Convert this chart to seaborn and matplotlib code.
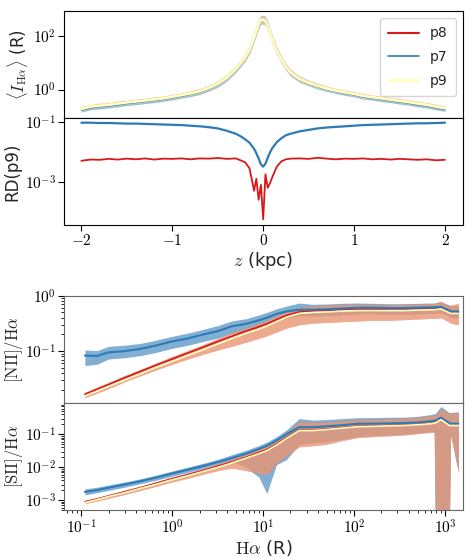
import numpy as np
import matplotlib
matplotlib.use('Agg')
import matplotlib.pyplot as plt
from matplotlib.ticker import FuncFormatter, NullLocator, LogLocator
import seaborn as sns

# vertical profiles (z in kpc)
z = [-2.0, -1.9, -1.8, -1.7, -1.6, -1.5, -1.4, -1.3, -1.2, -1.1, -1.0, -0.9, -0.8, -0.7, -0.6, -0.5, -0.4, -0.3,
     -0.25, -0.2, -0.15, -0.1, -0.075, -0.05, -0.025, 0.0, 0.025, 0.05, 0.075, 0.1, 0.15, 0.2, 0.25,
     0.3, 0.4, 0.5, 0.6, 0.7, 0.8, 0.9, 1.0, 1.1, 1.2, 1.3, 1.4, 1.5, 1.6, 1.7, 1.8, 1.9, 2.0]

# mean H-alpha intensity of p9 (R)
ha_p9 = [0.19, 0.23, 0.25, 0.27, 0.30, 0.33, 0.36, 0.39, 0.43, 0.47, 0.54, 0.62, 0.72, 0.87, 1.15, 1.66, 2.8, 6.0,
         9.5, 15.8, 31.6, 89, 158, 282, 417, 417, 380, 251, 141, 79, 28, 13.2, 7.1,
         4.4, 2.5, 1.82, 1.38, 1.10, 0.91, 0.79, 0.69, 0.58, 0.52, 0.47, 0.42, 0.38, 0.34, 0.30, 0.27, 0.23, 0.20]
# multiplicative scatter of the intensity band
ha_spread = [1.22, 1.2, 1.22, 1.2, 1.22, 1.2, 1.22, 1.2, 1.22, 1.2, 1.22, 1.2, 1.22, 1.25, 1.25, 1.28, 1.3, 1.3,
             1.32, 1.35, 1.38, 1.4, 1.42, 1.45, 1.45, 1.45, 1.45, 1.42, 1.4, 1.38, 1.35, 1.32, 1.3,
             1.3, 1.28, 1.25, 1.25, 1.22, 1.2, 1.22, 1.2, 1.22, 1.2, 1.22, 1.2, 1.22, 1.2, 1.22, 1.2, 1.22, 1.2]

# relative difference with respect to p9
rd_p7 = [0.0933, 0.0933, 0.0912, 0.0912, 0.0891, 0.0871, 0.0871, 0.0851, 0.0832, 0.0813, 0.0794, 0.0776, 0.0741, 0.0708, 0.0661, 0.0603, 0.0501, 0.0398,
         0.0331, 0.0263, 0.0200, 0.0126, 0.0089, 0.0060, 0.0038, 0.0032, 0.0040, 0.0063, 0.0095, 0.0132, 0.0209, 0.0282, 0.0355,
         0.0398, 0.0479, 0.0537, 0.0603, 0.0646, 0.0676, 0.0708, 0.0741, 0.0776, 0.0794, 0.0813, 0.0832, 0.0851, 0.0871, 0.0891, 0.0891, 0.0912, 0.0933]
rd_p8 = [0.0050, 0.0055, 0.0054, 0.0058, 0.0055, 0.0059, 0.0056, 0.0060, 0.0055, 0.0059, 0.0058, 0.0060, 0.0056, 0.0060, 0.0059, 0.0062, 0.0058, 0.0060,
         0.0052, 0.0045, 0.0028, 0.0005, 0.00126, 0.00025, 0.00079, 0.000056, 0.00178, 0.00063, 0.00089, 0.00141, 0.0032, 0.0048, 0.0056,
         0.0059, 0.0060, 0.0058, 0.0063, 0.0059, 0.0056, 0.0059, 0.0058, 0.0060, 0.0056, 0.0058, 0.0055, 0.0058, 0.0056, 0.0054, 0.0056, 0.0052, 0.0054]

# line ratios vs H-alpha (R)
ha_bins = [0.11, 0.15, 0.2, 0.3, 0.45, 0.65, 1.0, 1.5, 2.2, 3.2, 4.5, 6.5, 9, 11, 14, 18,
           25, 35, 50, 75, 110, 160, 240, 350, 500, 700, 760, 780, 900, 1120, 1150, 1400]

nii_p7 = [0.083, 0.082, 0.095, 0.100, 0.110, 0.125, 0.150, 0.170, 0.200, 0.230, 0.280, 0.310, 0.360, 0.400, 0.470, 0.520,
          0.560, 0.560, 0.570, 0.590, 0.610, 0.610, 0.600, 0.600, 0.610, 0.620, 0.620, 0.620, 0.630, 0.540, 0.520, 0.520]
nii_p7_lo = [0.055, 0.058, 0.072, 0.076, 0.083, 0.094, 0.112, 0.128, 0.150, 0.172, 0.210, 0.232, 0.270, 0.300, 0.350, 0.400,
             0.430, 0.430, 0.440, 0.450, 0.470, 0.470, 0.460, 0.460, 0.470, 0.480, 0.480, 0.480, 0.490, 0.420, 0.400, 0.400]
nii_p7_hi = [0.105, 0.102, 0.122, 0.128, 0.138, 0.156, 0.185, 0.212, 0.248, 0.290, 0.350, 0.385, 0.450, 0.500, 0.580, 0.650,
             0.740, 0.700, 0.710, 0.730, 0.740, 0.730, 0.720, 0.720, 0.730, 0.740, 0.740, 0.750, 0.780, 0.680, 0.660, 0.660]
nii_p8 = [0.0166, 0.0205, 0.025, 0.033, 0.043, 0.055, 0.072, 0.093, 0.118, 0.150, 0.185, 0.230, 0.275, 0.310, 0.370, 0.440,
          0.510, 0.530, 0.540, 0.560, 0.570, 0.570, 0.570, 0.570, 0.580, 0.590, 0.590, 0.590, 0.600, 0.510, 0.500, 0.500]
nii_p9 = [0.0155, 0.019, 0.023, 0.030, 0.039, 0.050, 0.065, 0.084, 0.106, 0.135, 0.168, 0.210, 0.250, 0.285, 0.340, 0.410,
          0.480, 0.500, 0.510, 0.530, 0.540, 0.540, 0.540, 0.540, 0.550, 0.560, 0.560, 0.560, 0.580, 0.490, 0.480, 0.480]
nii_p9_lo = [0.0145, 0.0175, 0.021, 0.028, 0.036, 0.045, 0.058, 0.072, 0.088, 0.105, 0.122, 0.145, 0.170, 0.190, 0.220, 0.260,
             0.300, 0.320, 0.330, 0.340, 0.350, 0.360, 0.360, 0.370, 0.380, 0.390, 0.390, 0.390, 0.400, 0.330, 0.320, 0.300]
nii_p9_hi = [0.0180, 0.0225, 0.027, 0.036, 0.047, 0.060, 0.080, 0.103, 0.132, 0.170, 0.215, 0.265, 0.320, 0.360, 0.430, 0.520,
             0.620, 0.660, 0.680, 0.700, 0.700, 0.700, 0.690, 0.700, 0.710, 0.720, 0.720, 0.730, 0.800, 0.650, 0.680, 0.720]

sii_p7 = [0.0018, 0.00205, 0.0024, 0.0030, 0.0038, 0.0048, 0.0065, 0.0085, 0.011, 0.0145, 0.019, 0.026, 0.036, 0.045, 0.065, 0.10,
          0.165, 0.165, 0.175, 0.19, 0.21, 0.21, 0.215, 0.22, 0.23, 0.25, 0.26, 0.26, 0.32, 0.22, 0.21, 0.21]
sii_p7_lo = [0.00145, 0.0017, 0.0020, 0.0025, 0.0032, 0.0040, 0.0054, 0.0071, 0.0092, 0.012, 0.015, 0.010, 0.005, 0.0016, 0.012, 0.017,
             0.050, 0.055, 0.060, 0.070, 0.085, 0.090, 0.095, 0.10, 0.11, 0.12, 0.12, 0.0003, 0.0003, 0.0003, 0.10, 0.0070]
sii_p7_hi = [0.0022, 0.0025, 0.0029, 0.0036, 0.0045, 0.0057, 0.0077, 0.0102, 0.0133, 0.0175, 0.024, 0.033, 0.046, 0.058, 0.085, 0.135,
             0.30, 0.27, 0.28, 0.30, 0.32, 0.32, 0.33, 0.33, 0.35, 0.40, 0.42, 0.42, 0.70, 0.45, 0.46, 0.48]
sii_p8 = [0.00090, 0.0011, 0.00135, 0.0018, 0.0024, 0.0032, 0.0045, 0.0060, 0.0080, 0.0108, 0.0145, 0.020, 0.028, 0.034, 0.050, 0.080,
          0.135, 0.135, 0.145, 0.160, 0.175, 0.180, 0.185, 0.190, 0.20, 0.22, 0.23, 0.23, 0.29, 0.19, 0.19, 0.19]
sii_p9 = [0.00085, 0.00105, 0.0013, 0.0017, 0.0023, 0.0030, 0.0042, 0.0056, 0.0075, 0.0100, 0.0135, 0.019, 0.026, 0.032, 0.047, 0.075,
          0.130, 0.130, 0.140, 0.155, 0.170, 0.175, 0.180, 0.185, 0.195, 0.21, 0.22, 0.22, 0.28, 0.185, 0.185, 0.185]
sii_p9_lo = [0.00080, 0.00095, 0.00115, 0.0015, 0.0020, 0.0026, 0.0036, 0.0047, 0.0062, 0.0080, 0.0095, 0.0080, 0.0065, 0.0060, 0.013, 0.022,
             0.042, 0.045, 0.050, 0.065, 0.080, 0.085, 0.090, 0.095, 0.105, 0.115, 0.115, 0.0003, 0.0003, 0.0003, 0.10, 0.0074]
sii_p9_hi = [0.0010, 0.0012, 0.0015, 0.0020, 0.0027, 0.0036, 0.0051, 0.0069, 0.0093, 0.0128, 0.0175, 0.025, 0.036, 0.045, 0.065, 0.11,
             0.25, 0.23, 0.24, 0.26, 0.28, 0.29, 0.30, 0.31, 0.33, 0.36, 0.38, 0.38, 0.60, 0.42, 0.44, 0.45]

sns.set_style('ticks')
plt.rcParams['font.family'] = ['DejaVu Sans']
plt.rcParams['mathtext.fontset'] = 'cm'
plt.rcParams['axes.edgecolor'] = 'black'
plt.rcParams['xtick.color'] = 'black'
plt.rcParams['ytick.color'] = 'black'

c8, c7, c9 = '#d7191c', '#2c7bb6', '#ffffbf'

z_arr = np.array(z)
ha9 = np.array(ha_p9)
spread = np.array(ha_spread)
# intensities of p7/p8 follow from their relative difference to p9
ha7 = ha9 * (1 - np.array(rd_p7))
ha8 = ha9 * (1 + np.array(rd_p8))

log_fmt = FuncFormatter(lambda v, _: r'$10^{%d}$' % int(round(np.log10(v))))
lin_fmt = FuncFormatter(lambda v, _: r'$%d$' % int(round(v)))

fig = plt.figure(figsize=(4.75, 5.57), dpi=100)
ax1 = fig.add_axes([0.135, 0.788, 0.84, 0.192])
ax2 = fig.add_axes([0.135, 0.596, 0.84, 0.192], sharex=ax1)
ax3 = fig.add_axes([0.135, 0.277, 0.84, 0.192])
ax4 = fig.add_axes([0.135, 0.084, 0.84, 0.192], sharex=ax3)

# panel 1: mean H-alpha profile
for y, c, a in [(ha8, c8, 0.35), (ha7, c7, 0.5), (ha9, c9, 0.5)]:
    ax1.fill_between(z_arr, y / spread, y * spread, color=c, alpha=a, lw=0)
sns.lineplot(x=z_arr, y=ha8, ax=ax1, color=c8, lw=1.5, label='p8')
sns.lineplot(x=z_arr, y=ha7, ax=ax1, color=c7, lw=1.2, label='p7')
sns.lineplot(x=z_arr, y=ha9, ax=ax1, color=c9, lw=2.0, label='p9')
ax1.set_yscale('log')
ax1.set_ylim(0.085, 870)
ax1.set_yticks([1, 100])
ax1.yaxis.set_minor_locator(NullLocator())
ax1.yaxis.set_major_formatter(log_fmt)
ax1.set_ylabel(r'$\langle I_{\rm H\alpha}\rangle$ (R)', fontsize=12, labelpad=2)
ax1.tick_params(axis='x', bottom=False, labelbottom=False)
ax1.legend(loc='upper right', fontsize=10, handlelength=2.2, borderpad=0.6, labelspacing=0.7)

# panel 2: relative difference
sns.lineplot(x=z_arr, y=rd_p8, ax=ax2, color=c8, lw=1.3)
sns.lineplot(x=z_arr, y=rd_p7, ax=ax2, color=c7, lw=1.6)
ax2.set_yscale('log')
ax2.set_ylim(3.6e-5, 0.133)
ax2.set_yticks([1e-3, 1e-1])
ax2.yaxis.set_minor_locator(NullLocator())
ax2.yaxis.set_major_formatter(log_fmt)
ax2.set_ylabel('RD(p9)', fontsize=12, labelpad=2)
ax2.set_xlim(-2.19, 2.2)
ax2.set_xticks([-2, -1, 0, 1, 2])
ax2.xaxis.set_major_formatter(lin_fmt)
ax2.set_xlabel(r'$z$ (kpc)', fontsize=13, labelpad=1)

# panels 3 and 4: line ratios
hb = np.array(ha_bins)
for ax, m8, m7, m9, lo7, hi7, lo9, hi9 in [
        (ax3, nii_p8, nii_p7, nii_p9, nii_p7_lo, nii_p7_hi, nii_p9_lo, nii_p9_hi),
        (ax4, sii_p8, sii_p7, sii_p9, sii_p7_lo, sii_p7_hi, sii_p9_lo, sii_p9_hi)]:
    ax.fill_between(hb, lo7, hi7, color=c7, alpha=0.6, lw=0)
    ax.fill_between(hb, lo9, hi9, color=c8, alpha=0.5, lw=0)
    ax.fill_between(hb, lo9, hi9, color='#f0c090', alpha=0.6, lw=0)
    sns.lineplot(x=hb, y=m8, ax=ax, color=c8, lw=1.2)
    sns.lineplot(x=hb, y=m7, ax=ax, color=c7, lw=1.5)
    sns.lineplot(x=hb, y=m9, ax=ax, color=c9, lw=1.2)
    ax.set_xscale('log')
    ax.set_yscale('log')
    ax.yaxis.set_major_formatter(log_fmt)
    ax.yaxis.set_minor_formatter(FuncFormatter(lambda v, _: ''))
    ax.yaxis.set_minor_locator(LogLocator(base=10, subs=np.arange(2, 10)))
    for s in ax.spines.values():
        s.set_edgecolor('0.4')

ax3.set_ylim(0.0117, 1.0)
ax3.set_yticks([0.1, 1.0])
ax3.set_ylabel(r'$\rm [NII]/H\alpha$', fontsize=12, labelpad=0)
ax3.tick_params(axis='x', which='both', bottom=False, labelbottom=False)

ax4.set_ylim(5e-4, 0.875)
ax4.set_yticks([1e-3, 1e-2, 1e-1])
ax4.set_ylabel(r'$\rm [SII]/H\alpha$', fontsize=12, labelpad=0)
ax4.set_xlim(0.065, 1580)
ax4.set_xticks([0.1, 1, 10, 100, 1000])
ax4.xaxis.set_major_formatter(log_fmt)
ax4.xaxis.set_minor_locator(LogLocator(base=10, subs=np.arange(2, 10)))
ax4.xaxis.set_minor_formatter(FuncFormatter(lambda v, _: ''))
ax4.set_xlabel(r'$\rm H\alpha$ (R)', fontsize=13, labelpad=1)

for ax in [ax1, ax2, ax3, ax4]:
    ax.tick_params(which='major', labelsize=11, length=4, pad=2)
    ax.tick_params(which='minor', length=2)

fig.savefig('out.png', dpi=100)
